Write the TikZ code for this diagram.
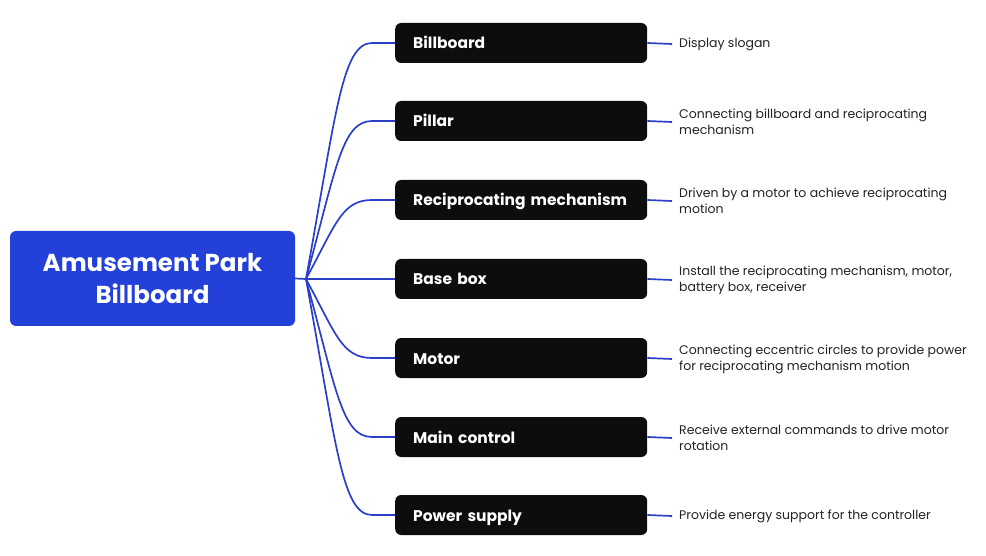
\documentclass[tikz,border=0pt]{standalone}
\usepackage{fontspec}
\setmainfont{Poppins}
\usepackage{xcolor}
\usetikzlibrary{calc}
\definecolor{rootblue}{HTML}{2340D8}
\definecolor{lineblue}{HTML}{2A40C8}
\definecolor{nodeblack}{HTML}{0D0D0D}
\definecolor{desctext}{HTML}{222222}
\tikzset{
	rootbox/.style={
		rectangle, rounded corners=6pt, fill=rootblue, text=white,
		minimum width=285pt, minimum height=95pt, align=center,
		font=\fontsize{24.5}{32}\selectfont\bfseries
	},
	partbox/.style={
		rectangle, rounded corners=6pt, fill=nodeblack, text=white,
		anchor=west, minimum width=252pt, minimum height=40pt,
		text width=216pt, inner xsep=18pt, align=left,
		text height=14pt, text depth=2pt,
		font=\fontsize{15.5}{19}\selectfont\bfseries
	},
	desc/.style={
		anchor=west, inner xsep=7pt, inner ysep=0pt, align=left,
		text=desctext, font=\fontsize{12.5}{16}\selectfont
	},
	branch/.style={draw=lineblue, line width=1.7pt},
}
\begin{document}
\begin{tikzpicture}[x=1pt,y=-1pt]
		\useasboundingbox (0,0) rectangle (986,556);
		% the root
		\node[rootbox] (root) at (152.5,278.5) {Amusement Park\\Billboard};
		\coordinate (fan) at (306,279);

		% the parts and their descriptions
		\foreach \i/\y/\part/\text in {
			1/43/Billboard/{Display slogan},
			2/121/Pillar/{Connecting billboard and reciprocating\\mechanism},
			3/200/Reciprocating mechanism/{Driven by a motor to achieve reciprocating\\motion},
			4/279/Base box/{Install the reciprocating mechanism, motor,\\battery box, receiver},
			5/358/Motor/{Connecting eccentric circles to provide power\\for reciprocating mechanism motion},
			6/437/Main control/{Receive external commands to drive motor\\rotation},
			7/515/Power supply/{Provide energy support for the controller}}
		{
			\node[partbox] (part\i) at (395,\y) {\mbox{\part}};
			\node[desc] (desc\i) at (672,\y+1) {\text};
			\coordinate (bend\i) at (372,\y);
			\draw[branch] (fan) .. controls ($(fan)!0.7!(306,\y)+(30,0)$) and ($(bend\i)+(-30,0)$) .. (bend\i) -- (part\i.west);
			\draw[branch] (part\i.east) -- (desc\i.west);
		}

		% the stem
		\draw[branch] (root.east) -- (fan);
	\end{tikzpicture}
\end{document}
